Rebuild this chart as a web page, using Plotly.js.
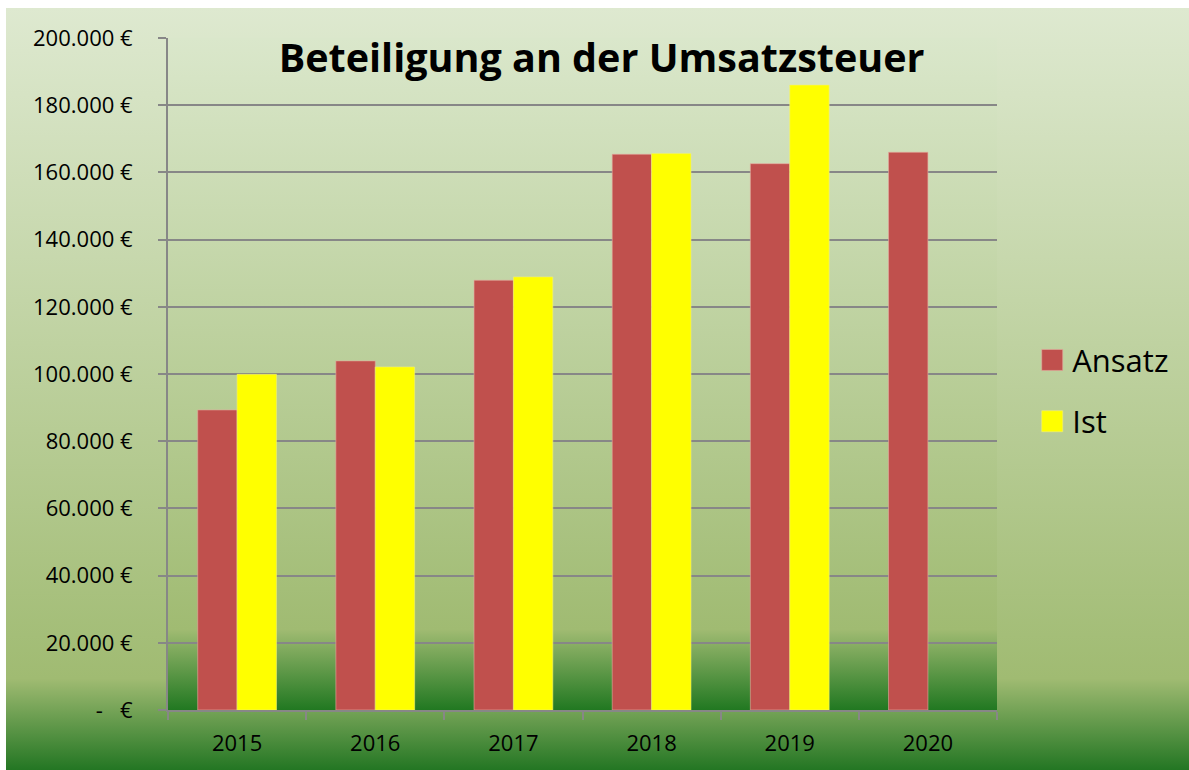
<!DOCTYPE html>
<html>
<head>
<meta charset="utf-8">
<script src="https://cdn.plot.ly/plotly-3.0.1.min.js"></script>
<style>
  html, body { margin:0; padding:0; background:#ffffff; }
  #wrap { position:relative; width:1189px; height:770px; overflow:hidden; }
  #outerbg { position:absolute; left:6px; top:8px; width:1183px; height:762px;
    background: linear-gradient(to bottom, #dee9d0 0%, #a0bb72 88%, #237623 100%); }
  #plotbg { position:absolute; left:168px; top:38px; width:829px; height:672px;
    background: linear-gradient(to bottom, #dae7cb 0%, #a0bb72 88%, #217821 100%); }
  #chart { position:absolute; left:0; top:0; width:1189px; height:770px; }
</style>
</head>
<body>
<div id="wrap">
  <div id="outerbg"></div>
  <div id="plotbg"></div>
  <div id="chart"></div>
</div>
<script>
// ---- data ----
const years = ["2015", "2016", "2017", "2018", "2019", "2020"];
const ansatz = [89300, 103900, 127900, 165400, 162600, 166000];
const ist = [99900, 102100, 128900, 165600, 186000, null];
const yTickVals = [0, 20000, 40000, 60000, 80000, 100000, 120000, 140000, 160000, 180000, 200000];
const yTickText = ["-\u00a0\u00a0\u00a0€", "20.000 €", "40.000 €", "60.000 €", "80.000 €", "100.000 €",
                   "120.000 €", "140.000 €", "160.000 €", "180.000 €", "200.000 €"];
const seriesNames = ["Ansatz", "Ist"];
const chartTitle = "Beteiligung an der Umsatzsteuer";

const colAnsatz = "#c0504d";
const colIst = "#ffff00";
const gridCol = "#878787";
const FONT = "Open Sans, sans-serif";

const traces = [
  { type: "bar", x: years, y: ansatz, name: seriesNames[0], legendgroup: "a",
    marker: { color: colAnsatz, line: { color: "rgba(230,170,160,0.6)", width: 1 } },
    hoverinfo: "x+y" },
  { type: "bar", x: years, y: ist, name: seriesNames[1], legendgroup: "b",
    marker: { color: colIst, line: { color: "rgba(240,240,120,0.6)", width: 1 } },
    hoverinfo: "x+y" }
];

const layout = {
  width: 1189, height: 770,
  margin: { l: 168, r: 192, t: 38, b: 60 },
  paper_bgcolor: "rgba(0,0,0,0)",
  plot_bgcolor: "rgba(0,0,0,0)",
  barmode: "group",
  bargap: 0.43,
  bargroupgap: 0,
  font: { family: FONT, color: "#000000", size: 22 },
  title: {
    text: "<b>" + chartTitle + "</b>",
    x: 0.506, xref: "container", xanchor: "center",
    y: 0.924, yref: "container", yanchor: "middle",
    font: { family: FONT, size: 39.5, color: "#000000" }
  },
  xaxis: {
    type: "category",
    showgrid: false,
    showline: true, linecolor: gridCol, linewidth: 2,
    ticks: "outside", tickson: "boundaries", ticklen: 8, tickcolor: gridCol, tickwidth: 2,
    ticklabelstandoff: 13,
    tickfont: { family: FONT, size: 22, color: "#000000" },
    zeroline: false, fixedrange: true
  },
  yaxis: {
    range: [0, 200000],
    tickmode: "array", tickvals: yTickVals, ticktext: yTickText,
    showgrid: true, gridcolor: gridCol, gridwidth: 2,
    showline: true, linecolor: gridCol, linewidth: 2,
    ticks: "outside", ticklen: 8, tickcolor: gridCol, tickwidth: 2,
    ticklabelstandoff: 21,
    tickfont: { family: FONT, size: 22, color: "#000000" },
    zeroline: false, fixedrange: true
  },
  showlegend: true,
  legend: {
    x: 1.0425, xanchor: "left", y: 0.475, yanchor: "middle",
    xref: "paper", yref: "paper",
    bgcolor: "rgba(0,0,0,0)",
    font: { family: FONT, size: 31, color: "#000000" },
    traceorder: "grouped", tracegroupgap: 18,
    itemclick: false, itemdoubleclick: false
  }
};

Plotly.newPlot("chart", traces, layout, { displayModeBar: false }).then(function () {
  // enlarge legend swatches to match the reference's square keys
  document.querySelectorAll("#chart .legendpoints path").forEach(function (p) {
    p.setAttribute("d", "M10.5,10.5H-10.5V-10.5H10.5Z");
  });
});
</script>
</body>
</html>
